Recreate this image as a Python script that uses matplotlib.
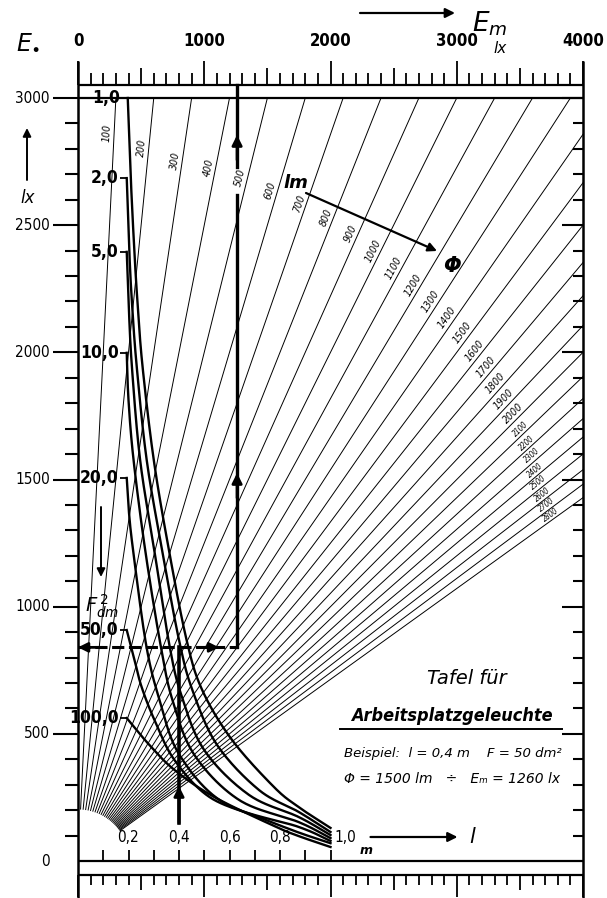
import numpy as np
import matplotlib
matplotlib.use("Agg")
import matplotlib.pyplot as plt

plt.rcParams['font.family'] = ['DejaVu Sans']

# ---------------- data ----------------
em_major = [0, 1000, 2000, 3000, 4000]
em_major_labels = ['0', '1000', '2000', '3000', '4000']
eo_major = [0, 500, 1000, 1500, 2000, 2500, 3000]
eo_major_labels = ['0', '500', '1000', '1500', '2000', '2500', '3000']
l_labeled = [0.2, 0.4, 0.6, 0.8, 1.0]
l_labels = ['0,2', '0,4', '0,6', '0,8', '1,0']

phi_values = [100, 200, 300, 400, 500, 600, 700, 800, 900, 1000,
              1100, 1200, 1300, 1400, 1500, 1600, 1700, 1800, 1900, 2000,
              2100, 2200, 2300, 2400, 2500, 2600, 2700, 2800]
phi_label_eo = [2860, 2800, 2750, 2720, 2680, 2630, 2575, 2520, 2455, 2385,
                2320, 2250, 2185, 2120, 2060, 1990, 1925, 1860, 1795, 1742,
                1683, 1628, 1577, 1520, 1470, 1425, 1385, 1345]

F_values = [1, 2, 5, 10, 20, 50, 100]
F_labels = ['1,0', '2,0', '5,0', '10,0', '20,0', '50,0', '100,0']
F_label_eo = [3000, 2686, 2395, 1998, 1506, 908, 562]
curve_l = {
    1:   [0.197, 0.209, 0.223, 0.235, 0.255, 0.300, 0.360, 0.430, 0.492, 0.610, 0.776, 0.874, 1.0],
    2:   [0.193, 0.203, 0.213, 0.232, 0.272, 0.333, 0.400, 0.453, 0.551, 0.717, 0.874, 1.0],
    5:   [0.193, 0.200, 0.213, 0.246, 0.302, 0.362, 0.409, 0.500, 0.677, 0.874, 1.0],
    10:  [0.193, 0.200, 0.220, 0.266, 0.327, 0.374, 0.461, 0.638, 0.874, 1.0],
    20:  [0.193, 0.201, 0.218, 0.270, 0.323, 0.402, 0.579, 0.874, 1.0],
    50:  [0.193, 0.224, 0.252, 0.303, 0.382, 0.520, 0.717, 0.874, 1.0],
    100: [0.193, 0.283, 0.382, 0.539, 0.776, 0.874, 1.0],
}
curve_eo = {
    1:   [3000, 2685, 2402, 2206, 1950, 1577, 1223, 869, 672, 476, 291, 212, 130],
    2:   [2685, 2402, 2206, 1950, 1577, 1223, 869, 672, 456, 279, 193, 114],
    5:   [2395, 2206, 1950, 1577, 1223, 849, 653, 436, 260, 173, 102],
    10:  [1998, 1813, 1577, 1223, 849, 633, 417, 240, 153, 90],
    20:  [1506, 1380, 1223, 849, 633, 417, 228, 134, 79],
    50:  [908, 790, 684, 554, 397, 252, 172, 112, 70],
    100: [562, 456, 358, 252, 138, 98, 55],
}

example_l = 0.4
example_F = 50
example_phi = 1500
example_em = 1260
example_eo = 840

# ---------------- geometry helpers ----------------
W, H = 607, 898
X0, X1 = 78, 583          # pixel columns of Em = 0 and Em = 4000
Y0, Y1 = 861, 98          # pixel rows of Eo = 0 and Eo = 3000
EM_MAX, EO_MAX = 4000, 3000
L_TO_EM = 2000            # 1 m of the l-scale spans 2000 lx on the Em scale
sx = (X1 - X0) / EM_MAX   # px per lx (horizontal)
sy = (Y0 - Y1) / EO_MAX   # px per lx (vertical)


def px(n):
    return n / sx


def py(n):
    return n / sy


def catmull_rom(xs, ys, n=24):
    """Smooth curve through the given points (done in pixel-like units)."""
    P = np.column_stack([np.asarray(xs) * sx, np.asarray(ys) * sy])
    P = np.vstack([2 * P[0] - P[1], P, 2 * P[-1] - P[-2]])
    out = []
    t = np.linspace(0, 1, n, endpoint=False)[:, None]
    for i in range(1, len(P) - 2):
        p0, p1, p2, p3 = P[i - 1], P[i], P[i + 1], P[i + 2]
        seg = 0.5 * ((2 * p1) + (-p0 + p2) * t + (2 * p0 - 5 * p1 + 4 * p2 - p3) * t ** 2
                     + (-p0 + 3 * p1 - 3 * p2 + p3) * t ** 3)
        out.append(seg)
    out.append(P[-2][None, :])
    out = np.vstack(out)
    return out[:, 0] / sx, out[:, 1] / sy


fig = plt.figure(figsize=(W / 100, H / 100), dpi=100)
fig.patch.set_facecolor('white')
ax = fig.add_axes([X0 / W, (H - Y0) / H, (X1 - X0) / W, (Y0 - Y1) / H])
ax.set_xlim(0, EM_MAX)
ax.set_ylim(0, EO_MAX)
ax.axis('off')

K = dict(color='black', clip_on=False, solid_capstyle='butt')
NUM = dict(family='DejaVu Sans', fontstretch='condensed')

# ---------------- frame ----------------
top_strip = EO_MAX + py(13)
ax.plot([0, EM_MAX], [EO_MAX, EO_MAX], lw=1.6, **K)
ax.plot([0, EM_MAX], [top_strip, top_strip], lw=1.6, **K)
ax.plot([0, 0], [-py(37), top_strip + py(24)], lw=1.8, **K)
ax.plot([EM_MAX, EM_MAX], [-py(37), top_strip + py(24)], lw=1.8, **K)
ax.plot([0, EM_MAX], [0, 0], lw=1.6, **K)
bot_strip = -py(14)
ax.plot([0, EM_MAX], [bot_strip, bot_strip], lw=1.6, **K)

# top Em ticks and bottom mirrored ticks
for v in range(0, 4001, 100):
    if v % 1000 == 0:
        ln = 24
    elif v % 500 == 0:
        ln = 17
    else:
        ln = 12
    ax.plot([v, v], [top_strip, top_strip + py(ln)], lw=1.3, **K)
    ax.plot([v, v], [bot_strip, bot_strip - py(ln - 2)], lw=1.3, **K)
for v, t in zip(em_major, em_major_labels):
    ax.text(v, top_strip + py(44), t, ha='center', va='center', fontsize=12,
            fontweight='bold', clip_on=False, **NUM)

# left and right Eo ticks
for v in range(100, 3001, 100):
    major = v % 500 == 0
    ax.plot([0, -px(25 if major else 13)], [v, v], lw=1.5, **K)
    ax.plot([EM_MAX, EM_MAX - px(21 if major else 10)], [v, v], lw=1.5, **K)
for v, t in zip(eo_major, eo_major_labels):
    ax.text(-px(28), v, t, ha='right', va='center', fontsize=11, clip_on=False,
            **NUM)

# l ticks inside bottom
for i in range(1, 11):
    lv = i / 10
    ax.plot([lv * L_TO_EM] * 2, [0, py(11)], lw=1.3, **K)
for lv, t in zip(l_labeled, l_labels):
    if lv < 1.0:
        ax.text(lv * L_TO_EM, py(23), t, ha='center', va='center', fontsize=11,
                clip_on=False, **NUM)
    else:
        ax.text(lv * L_TO_EM + px(4), py(23), t, ha='left', va='center',
                fontsize=11, clip_on=False, **NUM)
ax.text(1.0 * L_TO_EM + px(36), py(10), 'm', ha='center', va='center',
        fontsize=9, style='italic', fontweight='bold')
ax.annotate('', xy=(1.0 * L_TO_EM + px(127), py(24)),
            xytext=(1.0 * L_TO_EM + px(40), py(24)),
            arrowprops=dict(arrowstyle='-|>', lw=1.6, color='black',
                            mutation_scale=14, shrinkA=0, shrinkB=0))
ax.text(1.0 * L_TO_EM + px(142), py(24), 'l', ha='center', va='center',
        fontsize=15, style='italic')

# ---------------- luminous-flux lines ----------------
for phi in phi_values:
    k = phi / 1000.0
    seg = np.hypot(sx * k, sy)
    eo_s = 52 / seg
    if k * EO_MAX <= EM_MAX:
        eo_e = EO_MAX
    else:
        eo_e = EM_MAX / k
    ax.plot([k * eo_s, k * eo_e], [eo_s, eo_e], lw=0.7, color='black',
            clip_on=False)

for phi, eo_l in zip(phi_values, phi_label_eo):
    k = phi / 1000.0
    dx, dy = sx * k, sy
    n = np.hypot(dx, dy)
    ang = np.degrees(np.arctan2(dy, dx))
    nx, ny = -dy / n, dx / n
    fs = 7.5 if phi <= 2000 else 5.5
    off = 5 if phi <= 2000 else 4
    ax.annotate(str(phi), xy=(k * eo_l, eo_l), xytext=(nx * off, ny * off),
                textcoords='offset points', rotation=ang, ha='center',
                va='center', rotation_mode='anchor', fontsize=fs,
                style='italic', **NUM)

# ---------------- area curves ----------------
for F, lab, eo_lab in zip(F_values, F_labels, F_label_eo):
    l_arr = np.array(curve_l[F]) * L_TO_EM
    e_arr = np.array(curve_eo[F], dtype=float)
    cx_, cy_ = catmull_rom(l_arr, e_arr)
    ax.plot(cx_, cy_, lw=1.7, color='black', clip_on=False,
            solid_joinstyle='round')
    x_start = l_arr[0]
    ax.plot([x_start - px(7), x_start], [eo_lab, eo_lab], lw=1.3, **K)
    ax.text(x_start - px(8), eo_lab, lab, ha='right', va='center',
            fontsize=12.5, fontweight='bold', **NUM)

# F label and arrow
ax.annotate('', xy=(px(23), py(284)), xytext=(px(23), py(354)),
            arrowprops=dict(arrowstyle='-|>', lw=1.4, color='black',
                            mutation_scale=12, shrinkA=0, shrinkB=0))
ax.text(px(24), py(255), r'$F_{dm}^{\,2}$', ha='center', va='center',
        fontsize=14)

# ---------------- axis titles ----------------
ax.text(-px(50), EO_MAX + py(56), r'$E_{\bullet}$', ha='center', va='center',
        fontsize=17, clip_on=False)
ax.annotate('', xy=(-px(51), EO_MAX - py(30)), xytext=(-px(51), EO_MAX - py(82)),
            arrowprops=dict(arrowstyle='-|>', lw=1.4, color='black',
                            mutation_scale=12, shrinkA=0, shrinkB=0),
            annotation_clip=False)
ax.text(-px(50), EO_MAX - py(100), 'lx', ha='center', va='center',
        fontsize=12, style='italic', clip_on=False)

ax.annotate('', xy=(px(455 - X0), EO_MAX + py(85)), xytext=(px(360 - X0), EO_MAX + py(85)),
            arrowprops=dict(arrowstyle='-|>', lw=1.6, color='black',
                            mutation_scale=14, shrinkA=0, shrinkB=0),
            annotation_clip=False)
ax.text(px(490 - X0), EO_MAX + py(74), r'$E_m$', ha='center', va='center',
        fontsize=19, clip_on=False)
ax.text(px(500 - X0), EO_MAX + py(50), 'lx', ha='center', va='center',
        fontsize=11, style='italic', clip_on=False)

# lm -> Phi annotation
ax.text(px(296 - X0), EO_MAX - py(85), 'lm', ha='center', va='center',
        fontsize=13, style='italic', fontweight='bold')
ax.annotate('', xy=(px(437 - X0), EO_MAX - py(153)), xytext=(px(306 - X0), EO_MAX - py(95)),
            arrowprops=dict(arrowstyle='-|>', lw=1.6, color='black',
                            mutation_scale=13, shrinkA=0, shrinkB=0))
ax.text(px(452 - X0), EO_MAX - py(168), 'Φ', ha='center', va='center',
        fontsize=15, fontweight='bold', style='italic')

# ---------------- example path ----------------
xl = example_l * L_TO_EM
ax.plot([xl, xl], [py(38), example_eo], lw=2.6, color='black')
ax.annotate('', xy=(xl, py(75)), xytext=(xl, py(38)),
            arrowprops=dict(arrowstyle='-|>', lw=2.0, color='black',
                            mutation_scale=15, shrinkA=0, shrinkB=0))
ax.plot([0, example_em], [example_eo, example_eo], lw=2.2, color='black',
        ls=(0, (4, 1.5)))
ax.annotate('', xy=(0, example_eo), xytext=(px(25), example_eo),
            arrowprops=dict(arrowstyle='-|>', lw=2.0, color='black',
                            mutation_scale=14, shrinkA=0, shrinkB=0))
ax.annotate('', xy=(example_em - px(18), example_eo),
            xytext=(example_em - px(40), example_eo),
            arrowprops=dict(arrowstyle='-|>', lw=2.0, color='black',
                            mutation_scale=14, shrinkA=0, shrinkB=0))
ax.plot([example_em, example_em], [example_eo, EO_MAX - py(97)], lw=2.4,
        color='black')
ax.plot([example_em, example_em], [EO_MAX - py(69), top_strip], lw=2.4,
        color='black', clip_on=False)
for y_head in (EO_MAX - py(375), EO_MAX - py(37)):
    ax.annotate('', xy=(example_em, y_head), xytext=(example_em, y_head - py(25)),
                arrowprops=dict(arrowstyle='-|>', lw=2.0, color='black',
                                mutation_scale=15, shrinkA=0, shrinkB=0))

# ---------------- title block ----------------
ax.text(px(467 - X0), py(Y0 - 678), 'Tafel für', ha='center', va='center',
        fontsize=14, style='italic')
ax.text(px(452 - X0), py(Y0 - 716), 'Arbeitsplatzgeleuchte', ha='center',
        va='center', fontsize=13, style='italic', fontweight='bold',
        fontstretch='condensed')
ax.plot([px(340 - X0), px(562 - X0)], [py(Y0 - 729), py(Y0 - 729)], lw=1.4,
        color='black')
ax.text(px(453 - X0), py(Y0 - 754), 'Beispiel:  l = 0,4 m    F = 50 dm²',
        ha='center', va='center', fontsize=9.5, style='italic')
ax.text(px(452 - X0), py(Y0 - 779), 'Φ = 1500 lm   ÷   Eₘ = 1260 lx',
        ha='center', va='center', fontsize=10, style='italic')

fig.savefig('out.png', dpi=100, facecolor='white')
